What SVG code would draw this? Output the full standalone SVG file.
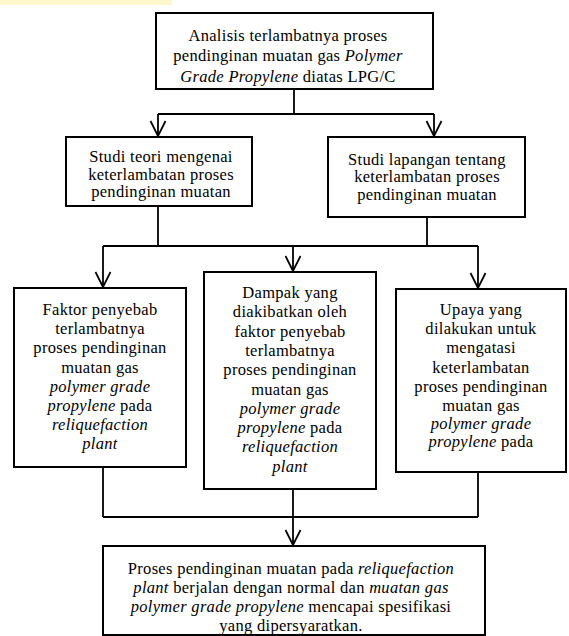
<svg xmlns="http://www.w3.org/2000/svg" width="569" height="636" viewBox="0 0 569 636">
<style>
.box{fill:#fff;stroke:#000;stroke-width:2}
.ln{fill:none;stroke:#000;stroke-width:1.8}
text{font-family:'Liberation Serif','DejaVu Serif','Noto Serif',serif;font-size:16.5px;letter-spacing:0.3px;fill:#000;text-anchor:middle}
.i{font-style:italic}
</style>
<defs>
<marker id="arr" markerUnits="userSpaceOnUse" markerWidth="18" markerHeight="18" refX="16" refY="9" orient="auto" viewBox="0 0 18 18">
<path d="M1,1.5 L16,9 L1,16.5" fill="none" stroke="#000" stroke-width="1.7"/>
</marker>
</defs>
<rect x="0" y="0" width="172" height="5" fill="#fcf7cd"/>
<g id="connectors">
<path class="ln" d="M294,89 V114 M158,114 H434"/>
<path class="ln" d="M158,114 V136" marker-end="url(#arr)"/>
<path class="ln" d="M434,114 V136" marker-end="url(#arr)"/>
<path class="ln" d="M158,206 V246 M427,217 V246 M103,246 H478"/>
<path class="ln" d="M103,246 V287" marker-end="url(#arr)"/>
<path class="ln" d="M293,246 V271" marker-end="url(#arr)"/>
<path class="ln" d="M478,246 V288" marker-end="url(#arr)"/>
<path class="ln" d="M103,467 V517 M478,472 V517 M103,517 H478"/>
<path class="ln" d="M293,489 V545" marker-end="url(#arr)"/>
</g>
<g id="n-analisis">
<rect class="box" x="156" y="13" width="277" height="76"/>
<text x="288" y="40.5">Analisis terlambatnya proses</text>
<text x="288" y="61">pendinginan muatan gas <tspan class="i">Polymer</tspan></text>
<text x="288" y="81.5"><tspan class="i">Grade Propylene</tspan> diatas LPG/C</text>
</g>
<g id="n-teori">
<rect class="box" x="66" y="137" width="186" height="69"/>
<text x="161" y="162">Studi teori mengenai</text>
<text x="161" y="179.5">keterlambatan proses</text>
<text x="161" y="197">pendinginan muatan</text>
</g>
<g id="n-lapangan">
<rect class="box" x="328" y="137" width="197" height="80"/>
<text x="427" y="164.5">Studi lapangan tentang</text>
<text x="427" y="182">keterlambatan proses</text>
<text x="427" y="199.5">pendinginan muatan</text>
</g>
<g id="n-faktor">
<rect class="box" x="14" y="288" width="172" height="179"/>
<text x="100" y="315">Faktor penyebab</text>
<text x="100" y="334.2">terlambatnya</text>
<text x="100" y="353.4">proses pendinginan</text>
<text x="100" y="372.6">muatan gas</text>
<text x="100" y="391.8" class="i">polymer grade</text>
<text x="100" y="411"><tspan class="i">propylene</tspan> pada</text>
<text x="100" y="430.2" class="i">reliquefaction</text>
<text x="100" y="449.4" class="i">plant</text>
</g>
<g id="n-dampak">
<rect class="box" x="204" y="272" width="172" height="217"/>
<text x="290" y="298">Dampak yang</text>
<text x="290" y="317.3">diakibatkan oleh</text>
<text x="290" y="336.6">faktor penyebab</text>
<text x="290" y="355.9">terlambatnya</text>
<text x="290" y="375.2">proses pendinginan</text>
<text x="290" y="394.5">muatan gas</text>
<text x="290" y="413.8" class="i">polymer grade</text>
<text x="290" y="433.1"><tspan class="i">propylene</tspan> pada</text>
<text x="290" y="452.4" class="i">reliquefaction</text>
<text x="290" y="471.7" class="i">plant</text>
</g>
<g id="n-upaya">
<rect class="box" x="396" y="289" width="170" height="183"/>
<text x="481" y="315">Upaya yang</text>
<text x="481" y="334">dilakukan untuk</text>
<text x="481" y="353">mengatasi</text>
<text x="481" y="372.5">keterlambatan</text>
<text x="481" y="391.7">proses pendinginan</text>
<text x="481" y="410.7">muatan gas</text>
<text x="481" y="428.7" class="i">polymer grade</text>
<text x="481" y="447"><tspan class="i">propylene</tspan> pada</text>
</g>
<g id="n-hasil">
<rect class="box" x="103" y="546" width="382" height="89"/>
<text x="291" y="574">Proses pendinginan muatan pada <tspan class="i">reliquefaction</tspan></text>
<text x="291" y="593"><tspan class="i">plant</tspan> berjalan dengan normal dan <tspan class="i">muatan gas</tspan></text>
<text x="291" y="612"><tspan class="i">polymer grade propylene</tspan> mencapai spesifikasi</text>
<text x="291" y="631">yang dipersyaratkan.</text>
</g>
</svg>
